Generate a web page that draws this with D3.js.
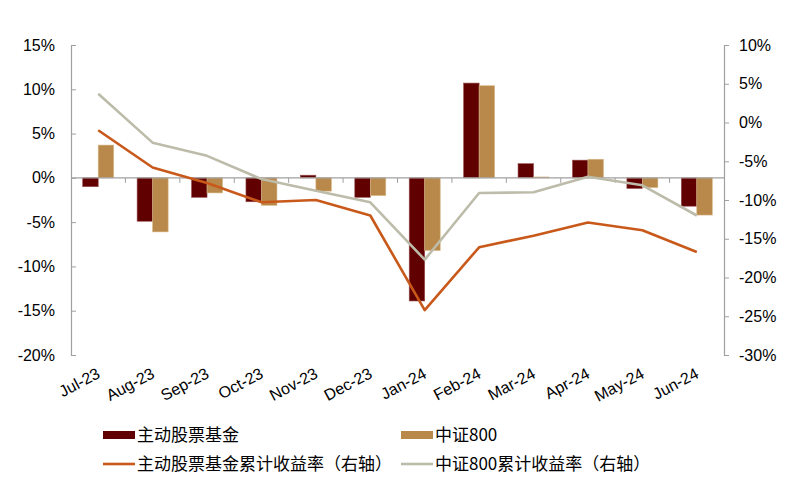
<!DOCTYPE html>
<html>
<head>
<meta charset="utf-8">
<script src="https://cdn.jsdelivr.net/npm/d3@7"></script>
<style>
  body { margin: 0; background: #fff; }
  text { font-family: "Liberation Sans", Arial, sans-serif; fill: #000; }
  .cn { font-family: "Noto Sans CJK SC", sans-serif; }
</style>
</head>
<body>
<svg id="chart" width="802" height="498"></svg>
<script>
// months on the x axis
const months = ['Jul-23', 'Aug-23', 'Sep-23', 'Oct-23', 'Nov-23', 'Dec-23',
                'Jan-24', 'Feb-24', 'Mar-24', 'Apr-24', 'May-24', 'Jun-24'];

// monthly returns, left axis (%)
const fundMonthly = [-1.0, -4.9, -2.2, -2.7, 0.3, -2.2, -13.9, 10.7, 1.6, 2.0, -1.2, -3.2];
const csiMonthly  = [3.7, -6.1, -1.7, -3.1, -1.5, -2.0, -8.2, 10.4, 0.1, 2.1, -1.1, -4.2];

// cumulative returns, right axis (%)
const fundCum = [-1.0, -5.8, -7.8, -10.3, -10.0, -12.0, -24.2, -16.1, -14.6, -12.9, -13.9, -16.7];
const csiCum  = [3.7, -2.6, -4.3, -7.3, -8.8, -10.3, -17.7, -9.1, -9.0, -7.0, -8.1, -12.0];

const leftTicks  = [15, 10, 5, 0, -5, -10, -15, -20];
const rightTicks = [10, 5, 0, -5, -10, -15, -20, -25, -30];

const names = ['主动股票基金', '中证800', '主动股票基金累计收益率（右轴）', '中证800累计收益率（右轴）'];
const colors = ['#600000', '#B8894A', '#C8591A', '#BDBCAA'];

const svg = d3.select('#chart');
const plotLeft = 71, plotRight = 724, plotTop = 45, plotBottom = 355;
const axisColor = '#A0A0A0';

const x = d3.scaleBand().domain(months).range([plotLeft, plotRight]);
const xs = d3.scaleBand().domain([0, 1]).range([0, x.bandwidth()]).paddingOuter(0.755);
const yL = d3.scaleLinear().domain([-20, 15]).range([plotBottom, plotTop]);
const yR = d3.scaleLinear().domain([-30, 10]).range([plotBottom, plotTop]);

// bars
[fundMonthly, csiMonthly].forEach((vals, k) => {
    svg.append('g').selectAll('rect')
        .data(vals)
        .enter().append('rect')
        .attr('x', (d, i) => x(months[i]) + xs(k))
        .attr('width', xs.bandwidth())
        .attr('y', d => yL(Math.max(0, d)))
        .attr('height', d => Math.abs(yL(d) - yL(0)))
        .attr('fill', colors[k])
        .attr('stroke', k === 0 ? '#9a5050' : '#d8b888')
        .attr('stroke-width', 0.6);
});

// zero line with category ticks
svg.append('line')
    .attr('x1', plotLeft).attr('x2', plotRight)
    .attr('y1', yL(0)).attr('y2', yL(0))
    .attr('stroke', axisColor).attr('stroke-width', 1.3);
svg.append('g').selectAll('line')
    .data(months.slice(1))
    .enter().append('line')
    .attr('x1', d => x(d)).attr('x2', d => x(d))
    .attr('y1', yL(0)).attr('y2', yL(0) + 5)
    .attr('stroke', axisColor);

// cumulative lines
[fundCum, csiCum].forEach((vals, k) => {
    const line = d3.line()
        .x((d, i) => x(months[i]) + x.bandwidth() / 2)
        .y(d => yR(d));
    svg.append('path')
        .datum(vals)
        .attr('d', line)
        .attr('fill', 'none')
        .attr('stroke', colors[k + 2])
        .attr('stroke-width', 2.6)
        .attr('stroke-linejoin', 'round');
});

// left axis
const gl = svg.append('g').attr('transform', `translate(${plotLeft},0)`)
    .call(d3.axisRight(yL).tickValues(leftTicks).tickSize(5).tickFormat(d => d + '%'));
gl.select('.domain').attr('stroke', axisColor).attr('stroke-width', 1.2);
gl.selectAll('.tick line').attr('stroke', axisColor);
gl.selectAll('.tick text')
    .attr('x', -16).attr('text-anchor', 'end')
    .style('font-size', '16px').style('font-family', '"Liberation Sans", Arial, sans-serif');

// right axis
const gr = svg.append('g').attr('transform', `translate(${plotRight},0)`)
    .call(d3.axisRight(yR).tickValues(rightTicks).tickSize(5).tickFormat(d => d + '%'));
gr.select('.domain').attr('stroke', axisColor).attr('stroke-width', 1.2);
gr.selectAll('.tick line').attr('stroke', axisColor);
gr.selectAll('.tick text')
    .attr('x', 15)
    .style('font-size', '16px').style('font-family', '"Liberation Sans", Arial, sans-serif');

// month labels
svg.append('g').selectAll('text')
    .data(months)
    .enter().append('text')
    .attr('transform', d => `translate(${x(d) + x.bandwidth() / 2 + 3},${377}) rotate(-28)`)
    .attr('text-anchor', 'end')
    .style('font-size', '16px')
    .text(d => d);

// legend
const legendItems = [
    { name: names[0], color: colors[0], type: 'rect', x: 103, y: 435 },
    { name: names[1], color: colors[1], type: 'rect', x: 401, y: 435 },
    { name: names[2], color: colors[2], type: 'line', x: 103, y: 464 },
    { name: names[3], color: colors[3], type: 'line', x: 401, y: 464 }
];
const lg = svg.append('g').selectAll('g')
    .data(legendItems)
    .enter().append('g')
    .attr('transform', d => `translate(${d.x},${d.y})`);
lg.filter(d => d.type === 'rect').append('rect')
    .attr('x', 0).attr('y', -4).attr('width', 32).attr('height', 8)
    .attr('fill', d => d.color);
lg.filter(d => d.type === 'line').append('line')
    .attr('x1', 0).attr('x2', 32).attr('y1', 0).attr('y2', 0)
    .attr('stroke', d => d.color).attr('stroke-width', 2.6);
lg.append('text')
    .attr('class', 'cn')
    .attr('x', 34).attr('dy', '0.36em')
    .style('font-size', '17px')
    .text(d => d.name);
</script>
</body>
</html>
